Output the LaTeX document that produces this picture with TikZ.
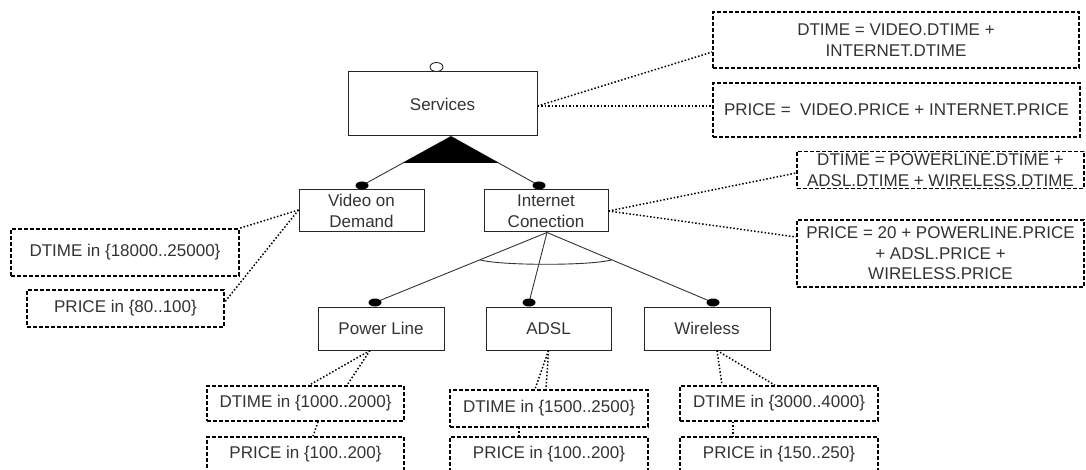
\documentclass[tikz,border=0pt]{standalone}
\usepackage{fontspec}
\setmainfont{Liberation Sans}
\usetikzlibrary{calc}

\begin{document}
\begin{tikzpicture}[x=1pt,y=-1pt,
  every node/.style={font=\fontsize{17}{20.5}\selectfont, text=black!80},
  feature/.style={draw=black!85, line width=1pt, fill=white, inner sep=0pt, align=center},
  attrbox/.style={draw=black, line width=1.5pt, dash pattern=on 4pt off 2pt, fill=white, inner sep=0pt, align=center},
  attrlink/.style={draw=black, line width=1.5pt, dash pattern=on 1.5pt off 2pt},
  rel/.style={draw=black!80, line width=0.9pt},
  mand/.style={fill=black},
]
\useasboundingbox (0,0) rectangle (1086,470);
\clip (0,0) rectangle (1086,470);

% features
\node[feature, minimum width=189pt, minimum height=64pt] (services) at (442.5,104) {Services};
\node[feature, minimum width=125pt, minimum height=42pt] (vod) at (361.5,211) {Video on\\Demand};
\node[feature, minimum width=124pt, minimum height=42pt] (inet) at (546,211) {Internet\\Conection};
\node[feature, minimum width=126pt, minimum height=43pt] (power) at (381,328.5) {Power Line};
\node[feature, minimum width=125pt, minimum height=43pt] (adsl) at (548.5,328.5) {ADSL};
\node[feature, minimum width=126pt, minimum height=43pt] (wireless) at (707,328.5) {Wireless};

% attribute boxes
\node[attrbox, minimum width=366pt, minimum height=56pt] (sdt) at (896,40) {DTIME = VIDEO.DTIME +\\INTERNET.DTIME};
\node[attrbox, minimum width=367pt, minimum height=54pt] (spr) at (896.5,110) {PRICE =\ \ VIDEO.PRICE + INTERNET.PRICE};
\node[attrbox, minimum width=287pt, minimum height=37pt] (idt) at (940.5,170) {DTIME = POWERLINE.DTIME +\\ADSL.DTIME + WIRELESS.DTIME};
\node[attrbox, minimum width=287pt, minimum height=67pt] (ipr) at (940.5,253.5) {PRICE = 20 + POWERLINE.PRICE\\+ ADSL.PRICE +\\WIRELESS.PRICE};
\node[attrbox, minimum width=228pt, minimum height=47pt] (vdt) at (125,252.5) {DTIME in \{18000..25000\}};
\node[attrbox, minimum width=197pt, minimum height=37pt] (vpr) at (125.5,308.5) {PRICE in \{80..100\}};
\node[attrbox, minimum width=197pt, minimum height=35pt] (pdt) at (305.5,403.5) {DTIME in \{1000..2000\}};
\node[attrbox, minimum width=197pt, minimum height=35pt] (ppr) at (305.5,454.5) {PRICE in \{100..200\}};
\node[attrbox, minimum width=198pt, minimum height=37pt] (adt) at (549,408.5) {DTIME in \{1500..2500\}};
\node[attrbox, minimum width=198pt, minimum height=35pt] (apr) at (549,454.5) {PRICE in \{100..200\}};
\node[attrbox, minimum width=198pt, minimum height=35pt] (wdt) at (779,403.5) {DTIME in \{3000..4000\}};
\node[attrbox, minimum width=198pt, minimum height=35pt] (wpr) at (779,454.5) {PRICE in \{150..250\}};

% root marker
\draw[line width=0.9pt, draw=black!85] ($(services.north)+(-6,-4.5)$) ellipse [x radius=6.5, y radius=4.5];

% relation end points
\coordinate (apex) at ($(services.south)+(8.5,0)$);
\coordinate (dv) at ($(vod.north)+(0.5,-4)$);
\coordinate (di) at ($(inet.north)+(-7,-4)$);
\coordinate (io) at ($(inet.south)+(1,0)$);
\coordinate (dp) at ($(power.north)+(-6,-4)$);
\coordinate (da) at ($(adsl.north)+(-19.5,-4)$);
\coordinate (dw) at ($(wireless.north)+(6,-4)$);

% and-decomposition with filled triangle
\draw[rel] (apex) -- (dv);
\draw[rel] (apex) -- (di);
\fill (apex) -- ($(apex)!0.54!(dv)$) -- ($(apex)!0.54!(di)$) -- cycle;

% or-group
\draw[rel] (io) -- (dp);
\draw[rel] (io) -- (da);
\draw[rel] (io) -- (dw);
\coordinate (al) at ($(io)!0.39!(dp)$);
\coordinate (ar) at ($(io)!0.39!(dw)$);
\draw[rel] (al) .. controls ($(al)+(20,6)$) and ($(ar)+(-20,6)$) .. (ar);

% mandatory markers
\foreach \d in {dv,di,dp,da,dw}
  \fill[mand] (\d) ellipse [x radius=6.5, y radius=4];

% attribute links
\draw[attrlink] ([yshift=-2pt]services.east) -- ([yshift=-12pt]sdt.west);
\draw[attrlink] ([yshift=-2pt]services.east) -- ([yshift=4pt]spr.west);
\draw[attrlink] (inet.east) -- ([yshift=-3pt]idt.west);
\draw[attrlink] (inet.east) -- ([yshift=16.5pt]ipr.west);
\draw[attrlink] ([yshift=1pt]vod.west) -- (vdt.north east);
\draw[attrlink] ([yshift=1pt]vod.west) -- ([yshift=6.5pt]vpr.east);
\draw[attrlink] ([xshift=-11pt]power.south) -- ([xshift=3.5pt]pdt.north);
\draw[attrlink] ([xshift=-11pt]power.south) -- ([xshift=41.5pt]pdt.north);
\draw[attrlink] ([xshift=12.5pt]pdt.south) -- ([xshift=7.5pt]ppr.north);
\draw[attrlink] (adsl.south) -- ([xshift=-14pt]adt.north);
\draw[attrlink] (adsl.south) -- ([xshift=-3pt]adt.north);
\draw[attrlink] ([xshift=-30pt]adt.south) -- ([xshift=-30pt]apr.north);
\draw[attrlink] ([xshift=10pt]wireless.south) -- ([xshift=-57pt]wdt.north);
\draw[attrlink] ([xshift=10pt]wireless.south) -- ([xshift=-4pt]wdt.north);
\draw[attrlink] ([xshift=-46pt]wdt.south) -- ([xshift=-46pt]wpr.north);
\end{tikzpicture}
\end{document}
